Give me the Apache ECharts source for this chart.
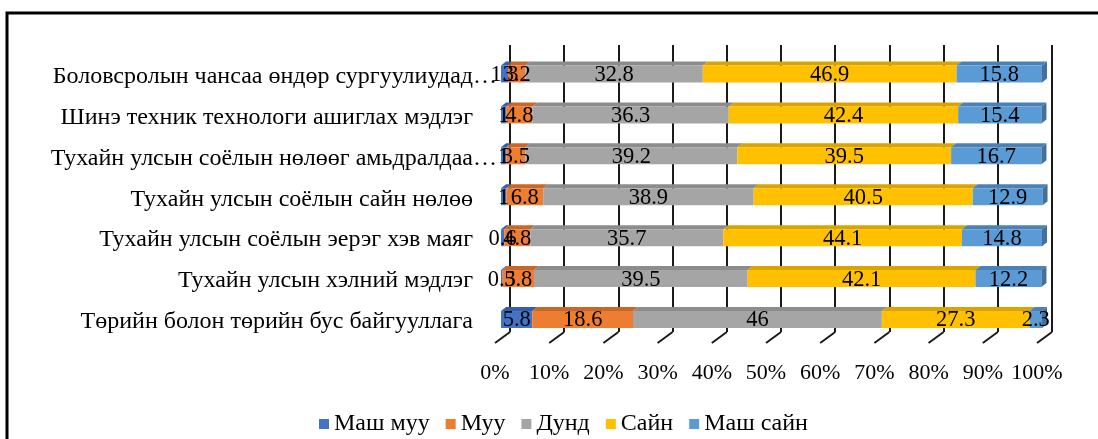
<!DOCTYPE html>
<html>
<head>
<meta charset="utf-8">
<script src="https://cdn.jsdelivr.net/npm/echarts@6/dist/echarts.min.js"></script>
<style>
  html, body { margin: 0; padding: 0; background: #fff; }
  #chart { width: 1098px; height: 439px; }
</style>
</head>
<body>
<div id="chart"></div>
<script>
// Categories, listed top to bottom
const categories = [
  'Боловсролын чансаа өндөр сургуулиудад…',
  'Шинэ техник технологи ашиглах мэдлэг',
  'Тухайн улсын соёлын нөлөөг амьдралдаа…',
  'Тухайн улсын соёлын сайн нөлөө',
  'Тухайн улсын соёлын эерэг хэв маяг',
  'Тухайн улсын хэлний мэдлэг',
  'Төрийн болон төрийн бус байгууллага'
];
const seriesNames = ['Маш муу', 'Муу', 'Дунд', 'Сайн', 'Маш сайн'];

// Percent shares per category
const veryBad  = [1.3, 1, 1, 1, 0.6, 0.3, 5.8];
const bad      = [3.2, 4.8, 3.5, 6.8, 4.8, 5.8, 18.6];
const medium   = [32.8, 36.3, 39.2, 38.9, 35.7, 39.5, 46];
const good     = [46.9, 42.4, 39.5, 40.5, 44.1, 42.1, 27.3];
const veryGood = [15.8, 15.4, 16.7, 12.9, 14.8, 12.2, 2.3];

// Axis ticks
const tickValues = [0, 10, 20, 30, 40, 50, 60, 70, 80, 90, 100];

const FONT = '"Liberation Serif", "Times New Roman", serif';
const colors    = ['#4472C4', '#ED7D31', '#A5A5A5', '#FFC000', '#5B9BD5'];
const topColors = ['#375EA6', '#C7682A', '#8C8C8C', '#D9A400', '#4A82B5'];
const sideColor = '#41719C';

const allSeries = [veryBad, bad, medium, good, veryGood];

// cumulative start of each segment
const starts = allSeries.map(() => []);
categories.forEach((c, i) => {
  let acc = 0;
  allSeries.forEach((s, k) => { starts[k][i] = acc; acc += s[i]; });
});

const DX = 5, DY = 4;          // depth offset of the bar's top/side faces
const BAR_RATIO = 0.415;       // bar thickness relative to the category band

function barRenderer(k) {
  const isLast = k === allSeries.length - 1;
  return function (params, api) {
    const s = api.coord([api.value(0), api.value(2)]);
    const e = api.coord([api.value(1), api.value(2)]);
    const h = api.size([0, 1])[1] * BAR_RATIO;
    const y0 = s[1] - h / 2;
    const children = [
      {
        type: 'polygon',
        shape: { points: [[s[0], y0], [e[0], y0], [e[0] + DX, y0 - DY], [s[0] + DX, y0 - DY]] },
        style: { fill: topColors[k] }
      },
      {
        type: 'rect',
        shape: { x: s[0], y: y0, width: e[0] - s[0], height: h },
        style: { fill: colors[k] }
      }
    ];
    if (isLast) {
      children.push({
        type: 'polygon',
        shape: { points: [[e[0], y0], [e[0] + DX, y0 - DY], [e[0] + DX, y0 + h - DY], [e[0], y0 + h]] },
        style: { fill: sideColor }
      });
    }
    children.push({
      type: 'text',
      z2: 100,
      style: {
        text: String(api.value(3)),
        x: (s[0] + e[0]) / 2,
        y: y0 + h / 2 + 1,
        align: 'center',
        verticalAlign: 'middle',
        font: '22.5px ' + FONT,
        fill: '#000'
      }
    });
    return { type: 'group', children };
  };
}

const barSeries = allSeries.map((vals, k) => ({
  name: seriesNames[k],
  type: 'custom',
  xAxisIndex: 2,
  yAxisIndex: 2,
  itemStyle: { color: colors[k] },
  encode: { x: [0, 1], y: 2 },
  renderItem: barRenderer(k),
  data: vals.map((v, i) => [starts[k][i], starts[k][i] + v, i, v])
}));

// Floor lines running from the back wall toward the viewer
const floorSeries = {
  type: 'custom',
  xAxisIndex: 0,
  yAxisIndex: 0,
  silent: true,
  renderItem: function (params, api) {
    const p = api.coord([api.value(0), 0]);
    return {
      type: 'line',
      shape: { x1: p[0], y1: p[1], x2: p[0] - 15, y2: p[1] + 11 },
      style: { stroke: '#1a1a1a', lineWidth: 2 }
    };
  },
  data: tickValues.map(v => [v])
};

const chart = echarts.init(document.getElementById('chart'), null, { renderer: 'canvas' });
chart.setOption({
  backgroundColor: '#fff',
  animation: false,
  textStyle: { fontFamily: FONT },
  graphic: [{
    type: 'polyline',
    shape: { points: [[7, 439], [7, 13], [1098, 13]] },
    style: { stroke: '#000', lineWidth: 3, fill: null }
  }],
  legend: {
    left: 314,
    top: 407,
    icon: 'rect',
    itemWidth: 10,
    itemHeight: 10,
    itemGap: 16,
    textStyle: { fontFamily: FONT, fontSize: 24, color: '#000' },
    data: seriesNames
  },
  grid: [
    // back wall
    { left: 510, right: 46, top: 45, bottom: 107 },
    // floor edge carrying the percentage labels
    { left: 495, right: 61, top: 45, bottom: 96 },
    // bars
    { left: 501, right: 56, top: 53.5, bottom: 99 }
  ],
  xAxis: [
    {
      gridIndex: 0, type: 'value', min: 0, max: 100, interval: 10,
      axisLine: { show: false }, axisTick: { show: false }, axisLabel: { show: false },
      splitLine: { show: true, lineStyle: { color: '#1a1a1a', width: 2 } }
    },
    {
      gridIndex: 1, type: 'value', min: 0, max: 100, interval: 10,
      axisLine: { show: false }, axisTick: { show: false }, splitLine: { show: false },
      axisLabel: { formatter: '{value}%', fontFamily: FONT, fontSize: 22, color: '#000', margin: 19 }
    },
    {
      gridIndex: 2, type: 'value', min: 0, max: 100, show: false
    }
  ],
  yAxis: [
    { gridIndex: 0, type: 'value', min: 0, max: 1, show: false },
    { gridIndex: 1, type: 'value', min: 0, max: 1, show: false },
    {
      gridIndex: 2, type: 'category', inverse: true, data: categories,
      axisLine: { show: false }, axisTick: { show: false }, splitLine: { show: false },
      axisLabel: {
        margin: 4,
        fontFamily: FONT, fontSize: 24, color: '#000',
        formatter: function (value) {
          return value.endsWith('…') ? '{t|' + value + '}' : '{n|' + value + '}';
        },
        rich: {
          t: { fontFamily: FONT, fontSize: 24, color: '#000', padding: [5, 0, 0, 0] },
          n: { fontFamily: FONT, fontSize: 24, color: '#000', padding: [5, 24, 0, 0] }
        }
      }
    }
  ],
  series: [floorSeries].concat(barSeries)
});
</script>
</body>
</html>
